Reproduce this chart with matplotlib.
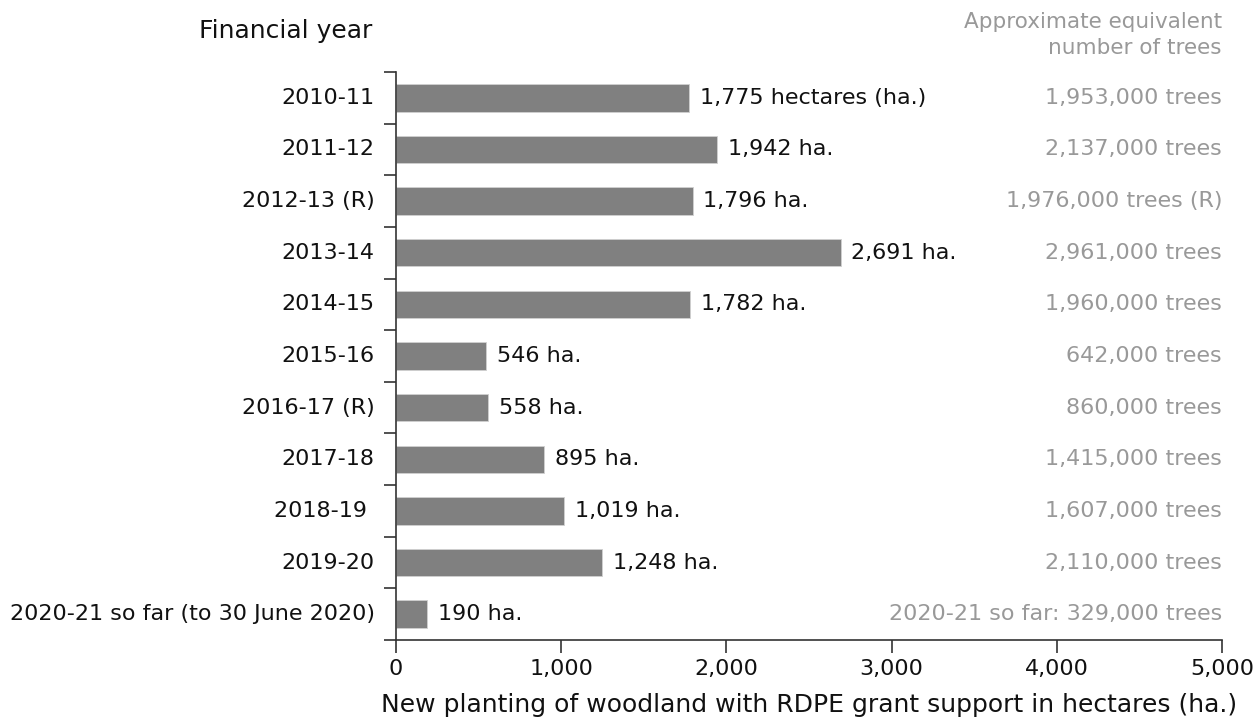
import matplotlib.pyplot as plt

years = ["2010-11", "2011-12", "2012-13 (R)", "2013-14", "2014-15", "2015-16",
         "2016-17 (R)", "2017-18", "2018-19 ", "2019-20",
         "2020-21 so far (to 30 June 2020)"]
hectares = [1775, 1942, 1796, 2691, 1782, 546, 558, 895, 1019, 1248, 190]
bar_labels = ["1,775 hectares (ha.)", "1,942 ha.", "1,796 ha.", "2,691 ha.",
              "1,782 ha.", "546 ha.", "558 ha.", "895 ha.", "1,019 ha.",
              "1,248 ha.", "190 ha."]
trees = ["1,953,000 trees", "2,137,000 trees", "1,976,000 trees (R)",
         "2,961,000 trees", "1,960,000 trees", "642,000 trees", "860,000 trees",
         "1,415,000 trees", "1,607,000 trees", "2,110,000 trees",
         "2020-21 so far: 329,000 trees"]
xticks = [0, 1000, 2000, 3000, 4000, 5000]

plt.rcParams['font.family'] = ['DejaVu Sans']
fs = 16
dark = "#111111"
grey = "#999999"

fig = plt.figure(figsize=(12.59, 7.2), dpi=100)
ax = fig.add_axes([396 / 1259, 80 / 720, (1222 - 396) / 1259, (640 - 72) / 720])

pos = list(range(len(years)))
ax.barh(pos, hectares, height=0.53, color="#808080", edgecolor="#d0d0d0", linewidth=0.6)
ax.set_ylim(len(years) - 0.5, -0.5)
ax.set_xlim(0, 5000)

for i in pos:
    ax.text(hectares[i] + 65, i, bar_labels[i], va="center", ha="left", fontsize=fs, color=dark)
    ax.text(5000, i, trees[i], va="center", ha="right", fontsize=fs, color=grey)
    ax.text(-130, i, years[i], va="center", ha="right", fontsize=fs, color=dark)

ax.set_yticks([p - 0.5 for p in pos] + [len(years) - 0.5])
ax.set_yticklabels([])
ax.set_xticks(xticks)
ax.set_xticklabels([f"{t:,}" for t in xticks], fontsize=fs, color=dark)
ax.tick_params(axis="both", length=9, width=1.2, color="#333333")
ax.tick_params(axis="x", pad=5)
for s in ["top", "right"]:
    ax.spines[s].set_visible(False)
for s in ["left", "bottom"]:
    ax.spines[s].set_color("#333333")
    ax.spines[s].set_linewidth(1.2)

ax.set_xlabel("New planting of woodland with RDPE grant support in hectares (ha.)",
              fontsize=18, color=dark, labelpad=10)
fig.text(372 / 1259, 1 - 31 / 720, "Financial year", ha="right", va="center",
         fontsize=18, color=dark)
fig.text(1222 / 1259, 1 - 35 / 720, "Approximate equivalent\nnumber of trees",
         ha="right", va="center", fontsize=15.5, color=grey, linespacing=1.4)

fig.savefig("out.png", dpi=100)
